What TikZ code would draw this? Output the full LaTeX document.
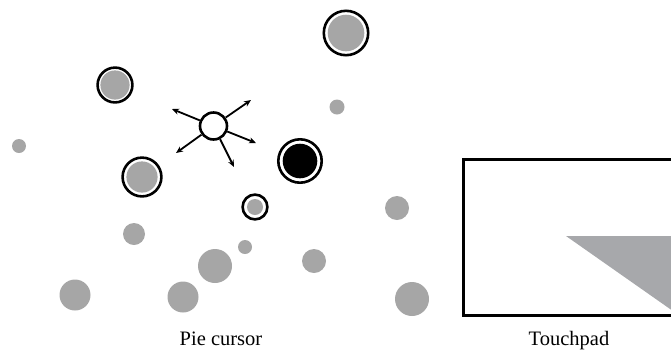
\documentclass[tikz,border=0pt]{standalone}
\usepackage{fontspec}
\setmainfont{Liberation Serif}
\newfontfamily\lblfont{Liberation Serif}
\usetikzlibrary{arrows.meta}
\definecolor{dotgray}{HTML}{A6A6A6}
\definecolor{padgray}{HTML}{A7A8AB}
\tikzset{
  dot/.style={circle, fill=dotgray, inner sep=0pt, minimum size=#1},
  ringline/.style={draw=black, line width=2.6pt, fill=white},
  cursorarrow/.style={line width=1.8pt, -{Stealth[length=7pt, width=6pt]}},
  lbl/.style={font=\lblfont\fontsize{20.5}{24}\selectfont, inner sep=0pt, anchor=base}
}
\begin{document}
\begin{tikzpicture}[x=1pt, y=-1pt]
\useasboundingbox (0,0) rectangle (671,349);
% ringed targets
\draw[ringline] (346,33) circle (22.2);
\fill[dotgray] (346,33) circle (18.3);
\draw[ringline] (115,85) circle (17.4);
\fill[dotgray] (115,85) circle (14.6);
\draw[ringline] (142,177) circle (19.4);
\fill[dotgray] (142,177) circle (15.6);
\draw[ringline] (300,161) circle (21.7);
\fill[black] (300,161) circle (17.3);
\draw[ringline] (255,207) circle (12.4);
\fill[dotgray] (255,207) circle (8);
% plain dots
\node[dot=15] (d1) at (337,107) {};
\node[dot=14] (d2) at (19,146) {};
\node[dot=24] (d3) at (397,208) {};
\node[dot=22] (d4) at (134,234) {};
\node[dot=14] (d5) at (245,247) {};
\node[dot=34] (d6) at (215,266) {};
\node[dot=24] (d7) at (314,261) {};
\node[dot=31] (d8) at (75,295) {};
\node[dot=31] (d9) at (183,297) {};
\node[dot=34] (d10) at (412,299) {};
% cursor
\node[circle, draw=black, line width=2.6pt, fill=white, inner sep=0pt, minimum size=27pt] (cur) at (213.5,126) {};
\coordinate (a1) at (172,109);
\coordinate (a2) at (251,100);
\coordinate (a3) at (256,143);
\coordinate (a4) at (234,167);
\coordinate (a5) at (176,153);
\foreach \e in {a1,a2,a3,a4,a5} \draw[cursorarrow] (cur) -- (\e);
% touchpad
\node[draw=black, line width=3pt, inner sep=0pt, minimum width=220pt, minimum height=156pt, anchor=north west] (pad) at (462,158) {};
\begin{scope}
\clip (0,0) rectangle (671,349);
\fill[padgray] (566,236) -- (700,236) -- (700,330) -- cycle;
\end{scope}
% labels
\node[lbl] (l1) at (221,345) {Pie cursor};
\node[lbl] (l2) at (569,345) {Touchpad};
\end{tikzpicture}
\end{document}
